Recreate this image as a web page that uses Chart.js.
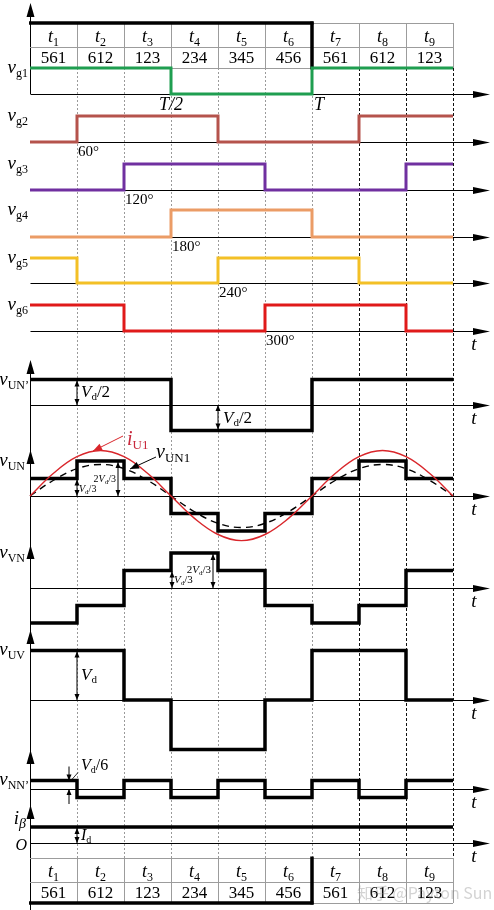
<!DOCTYPE html>
<html>
<head>
<meta charset="utf-8">
<script src="https://cdn.jsdelivr.net/npm/chart.js@4.4.1/dist/chart.umd.min.js"></script>
<style>
  html, body { margin: 0; padding: 0; background: #fff; }
  #wrap { position: relative; width: 494px; height: 910px; }
</style>
</head>
<body>
<div id="wrap"><canvas id="c"></canvas></div>
<script>
/* ── data (levels per interval t1..t9) ── */
const intervalLabels = ['1', '2', '3', '4', '5', '6', '7', '8', '9'];
const sectorLabels = ['561', '612', '123', '234', '345', '456', '561', '612', '123'];
const angleLabels = ['60°', '120°', '180°', '240°', '300°'];

const vg1 = [1, 1, 1, 0, 0, 0, 1, 1, 1];
const vg2 = [0, 1, 1, 1, 0, 0, 0, 1, 1];
const vg3 = [0, 0, 1, 1, 1, 0, 0, 0, 1];
const vg4 = [0, 0, 0, 1, 1, 1, 0, 0, 0];
const vg5 = [1, 0, 0, 0, 1, 1, 1, 0, 0];
const vg6 = [1, 1, 0, 0, 0, 1, 1, 1, 0];
const vUNp = [1, 1, 1, -1, -1, -1, 1, 1, 1];   // Vd/2
const vUN = [1, 2, 1, -1, -2, -1, 1, 2, 1];     // Vd/3
const vVN = [-2, -1, 1, 2, 1, -1, -2, -1, 1];   // Vd/3
const vUV = [1, 1, 0, -1, -1, 0, 1, 1, 0];      // Vd
const vNNp = [1, -1, 1, -1, 1, -1, 1, -1, 1];   // Vd/6
const iBeta = [1, 1, 1, 1, 1, 1, 1, 1, 1];      // Id

// fundamental and current, read at every half interval (units of Vd/3)
const waveT = [0, 0.5, 1, 1.5, 2, 2.5, 3, 3.5, 4, 4.5, 5, 5.5, 6, 6.5, 7, 7.5, 8, 8.5, 9];
const vUN1 = [0, 0.9, 1.56, 1.8, 1.56, 0.9, 0, -0.9, -1.56, -1.8, -1.56, -0.9, 0, 0.9, 1.56, 1.8, 1.56, 0.9, 0];
const iU1 = [0, 1.3, 2.25, 2.6, 2.25, 1.3, 0, -1.28, -2.2, -2.55, -2.2, -1.28, 0, 1.3, 2.25, 2.6, 2.25, 1.3, 0];

/* ── layout: one stacked y axis per row (baseline px, px per unit, band) ── */
const rows = [
  { id: 'yg1', base: 94, unit: 26, top: 0, bottom: 104 },
  { id: 'yg2', base: 142, unit: 26, top: 104, bottom: 152 },
  { id: 'yg3', base: 190, unit: 26, top: 152, bottom: 199 },
  { id: 'yg4', base: 237, unit: 27, top: 199, bottom: 247 },
  { id: 'yg5', base: 283, unit: 25, top: 247, bottom: 294 },
  { id: 'yg6', base: 331, unit: 26, top: 294, bottom: 350 },
  { id: 'yUNp', base: 405, unit: 25.5, top: 350, bottom: 440 },
  { id: 'yUN', base: 496, unit: 17.5, top: 440, bottom: 540 },
  { id: 'yVN', base: 588, unit: 17.5, top: 540, bottom: 640 },
  { id: 'yUV', base: 700, unit: 49.5, top: 640, bottom: 760 },
  { id: 'yNN', base: 789, unit: 8.5, top: 760, bottom: 805 },
  { id: 'yI', base: 843, unit: 16, top: 805, bottom: 910 }
];

const SERIF = '"Liberation Serif","DejaVu Serif",serif';
const fI = s => 'italic ' + s + 'px ' + SERIF;
const fN = s => s + 'px ' + SERIF;

function steps(vals) {
  const pts = vals.map((v, i) => ({ x: i, y: v }));
  pts.push({ x: vals.length, y: vals[vals.length - 1] });
  return pts;
}
function curve(xs, ys) { return xs.map((x, i) => ({ x: x, y: ys[i] })); }

function stepSet(vals, axis, color, width) {
  return {
    data: steps(vals), yAxisID: axis, borderColor: color, borderWidth: width,
    stepped: true, pointRadius: 0, fill: false, clip: false, borderJoinStyle: 'miter'
  };
}

const datasets = [
  stepSet(vg1, 'yg1', '#1f9e50', 3),
  stepSet(vg2, 'yg2', '#b5534c', 3),
  stepSet(vg3, 'yg3', '#7030a0', 3),
  stepSet(vg4, 'yg4', '#eb9c66', 3),
  stepSet(vg5, 'yg5', '#f3c026', 3),
  stepSet(vg6, 'yg6', '#e01a1a', 3),
  stepSet(vUNp, 'yUNp', '#000', 3.5),
  {
    data: curve(waveT, iU1), yAxisID: 'yUN', borderColor: '#d9262b', borderWidth: 1.4,
    tension: 0.4, pointRadius: 0, fill: false, clip: false
  },
  {
    data: curve(waveT, vUN1), yAxisID: 'yUN', borderColor: '#000', borderWidth: 1.4,
    borderDash: [7, 5], tension: 0.4, pointRadius: 0, fill: false, clip: false
  },
  stepSet(vUN, 'yUN', '#000', 3.5),
  stepSet(vVN, 'yVN', '#000', 3.5),
  stepSet(vUV, 'yUV', '#000', 3.5),
  stepSet(vNNp, 'yNN', '#000', 3.5),
  stepSet(iBeta, 'yI', '#000', 3.5)
];

const scales = { x: { type: 'linear', min: 0, max: 9, display: false } };
rows.forEach(r => {
  scales[r.id] = {
    type: 'linear', display: false, position: 'right', stack: 'rows',
    stackWeight: r.bottom - r.top,
    min: -(r.bottom - r.base) / r.unit,
    max: (r.base - r.top) / r.unit
  };
});

/* ── drawing helpers ── */
function rich(ctx, x, y, parts, align, color) {
  let w = 0;
  parts.forEach(p => { ctx.font = p[1]; w += ctx.measureText(p[0]).width; });
  let cx = align === 'right' ? x - w : (align === 'center' ? x - w / 2 : x);
  ctx.fillStyle = color || '#000';
  ctx.textAlign = 'left';
  ctx.textBaseline = 'alphabetic';
  parts.forEach(p => {
    ctx.font = p[1];
    ctx.fillText(p[0], cx, y + (p[2] || 0));
    cx += ctx.measureText(p[0]).width;
  });
}

function line(ctx, x1, y1, x2, y2, color, width) {
  ctx.beginPath();
  ctx.strokeStyle = color || '#000';
  ctx.lineWidth = width || 1;
  ctx.moveTo(x1, y1);
  ctx.lineTo(x2, y2);
  ctx.stroke();
}

function head(ctx, x, y, dir, len, half, color) {
  ctx.beginPath();
  ctx.fillStyle = color || '#000';
  ctx.moveTo(x, y);
  if (dir === 'up') { ctx.lineTo(x - half, y + len); ctx.lineTo(x + half, y + len); }
  else if (dir === 'down') { ctx.lineTo(x - half, y - len); ctx.lineTo(x + half, y - len); }
  else if (dir === 'right') { ctx.lineTo(x - len, y - half); ctx.lineTo(x - len, y + half); }
  ctx.closePath();
  ctx.fill();
}

function dim(ctx, x, y1, y2) {
  line(ctx, x, y1, x, y2, '#000', 1);
  head(ctx, x, y1, 'up', 6, 2.5);
  head(ctx, x, y2, 'down', 6, 2.5);
}

function pointer(ctx, x1, y1, x2, y2, color) {
  line(ctx, x1, y1, x2, y2, color, 1);
  const a = Math.atan2(y2 - y1, x2 - x1);
  ctx.save();
  ctx.translate(x2, y2);
  ctx.rotate(a);
  ctx.beginPath();
  ctx.fillStyle = color;
  ctx.moveTo(0, 0);
  ctx.lineTo(-9, -3.5);
  ctx.lineTo(-9, 3.5);
  ctx.closePath();
  ctx.fill();
  ctx.restore();
}

const TOP_TABLE = [23, 47, 68];
const BOTTOM_TABLE = [858, 882, 903];
const AXIS_END = 490;
const AXIS_TIPS = [360, 450, 545, 630, 750, 805];

function drawTable(ctx, px, ys, thickTop) {
  const x0 = px(0), x6 = px(6), x9 = px(9);
  ys.forEach(y => line(ctx, x0, y + 0.5, x9, y + 0.5, '#9c9c9c', 1));
  for (let i = 1; i <= 9; i++) {
    const x = Math.round(px(i)) + 0.5;
    line(ctx, x, ys[0], x, ys[2], '#9c9c9c', 1);
  }
  const yThick = thickTop ? ys[0] : ys[2];
  line(ctx, x0 - 1, yThick, x6 + 1.5, yThick, '#000', 3.5);
  line(ctx, x6, ys[0] - 1.5, x6, ys[2] + 1.5, '#000', 3.5);
}

function drawTableText(ctx, px, ys) {
  for (let i = 0; i < 9; i++) {
    const cx = (px(i) + px(i + 1)) / 2;
    rich(ctx, cx, ys[1] - 5, [['t', fI(18)], [intervalLabels[i], fN(12), 4]], 'center');
    rich(ctx, cx, ys[2] - 5, [[sectorLabels[i], fN(17)]], 'center');
  }
}

const diagram = {
  id: 'diagram',
  beforeDraw(chart) {
    const ctx = chart.ctx;
    ctx.save();
    ctx.fillStyle = '#fff';
    ctx.fillRect(0, 0, chart.width, chart.height);
    ctx.restore();
  },
  beforeDatasetsDraw(chart) {
    const ctx = chart.ctx;
    const X = chart.scales.x;
    const px = v => X.getPixelForValue(v);
    const py = (id, v) => chart.scales[id].getPixelForValue(v);
    const x0 = Math.round(px(0)) + 0.5;
    ctx.save();

    // vertical guide lines at each interval boundary
    for (let i = 1; i <= 9; i++) {
      ctx.setLineDash(i <= 6 ? [2, 2] : [3, 2]);
      const x = Math.round(px(i)) + 0.5;
      line(ctx, x, TOP_TABLE[2], x, BOTTOM_TABLE[0], i <= 6 ? '#9a9a9a' : '#111', 1);
    }
    ctx.setLineDash([]);

    // time axes with arrows
    rows.forEach(r => {
      const y = Math.round(py(r.id, 0)) + 0.5;
      line(ctx, x0, y, AXIS_END - 10, y, '#000', 1);
      head(ctx, AXIS_END, y, 'right', 17, 3.5);
    });

    // left vertical axes
    line(ctx, x0, 8, x0, py('yg1', 0), '#000', 1);
    head(ctx, x0, 3, 'up', 14, 4);
    line(ctx, x0, AXIS_TIPS[0] + 6, x0, 910, '#000', 1);
    AXIS_TIPS.forEach(y => head(ctx, x0, y, 'up', 14, 4));

    drawTable(ctx, px, TOP_TABLE, true);
    drawTable(ctx, px, BOTTOM_TABLE, false);
    ctx.restore();
  },
  afterDatasetsDraw(chart) {
    const ctx = chart.ctx;
    const X = chart.scales.x;
    const px = v => X.getPixelForValue(v);
    const py = (id, v) => chart.scales[id].getPixelForValue(v);
    ctx.save();

    drawTableText(ctx, px, TOP_TABLE);
    drawTableText(ctx, px, BOTTOM_TABLE);

    // row labels
    const sig = (y, main, sub, right, subFont) =>
      rich(ctx, right, y, [[main, fI(19)], [sub, subFont || fN(12), 4]], 'right');
    ['yg1', 'yg2', 'yg3', 'yg4', 'yg5', 'yg6'].forEach((id, k) => {
      sig(py(id, 1) + 5, 'v', 'g' + (k + 1), 28);
    });
    sig(py('yUNp', 1) + 5, 'v', 'UN\u2019', 29);
    sig(py('yUN', 0) - 30, 'v', 'UN', 25);
    sig(py('yVN', 0) - 30, 'v', 'VN', 25);
    sig(py('yUV', 1) + 4, 'v', 'UV', 25);
    sig(py('yNN', 1) + 4, 'v', 'NN\u2019', 29);
    sig(py('yI', 1) - 3, 'i', '\u03b2', 26, fI(14));
    rich(ctx, 27, py('yI', 0) + 7, [['O', fI(16)]], 'right');

    // phase angles and period marks
    angleLabels.forEach((txt, k) => {
      const id = rows[k + 1].id;
      rich(ctx, px(k + 1) + 1, py(id, 0) + 14, [[txt, fN(15)]], 'left');
    });
    rich(ctx, px(3), py('yg1', 0) + 16, [['T/2', fI(18)]], 'center');
    rich(ctx, px(6) + 2, py('yg1', 0) + 16, [['T', fI(18)]], 'left');

    // "t" at the end of time axes
    ['yg6', 'yUNp', 'yUN', 'yVN', 'yUV', 'yNN', 'yI'].forEach(id => {
      rich(ctx, 474, py(id, 0) + 19, [['t', fI(19)]], 'center');
    });

    // dimension arrows
    const Vd = (tail, size, sub) => [['V', fI(size)], ['d', fN(sub), sub * 0.3], [tail, fN(size)]];
    dim(ctx, px(1), py('yUNp', 1) + 1, py('yUNp', 0));
    rich(ctx, px(1) + 4, py('yUNp', 0) - 8, Vd('/2', 17, 11), 'left');
    dim(ctx, px(4), py('yUNp', 0), py('yUNp', -1) - 1);
    rich(ctx, px(4) + 5, py('yUNp', 0) + 18, Vd('/2', 17, 11), 'left');

    dim(ctx, px(1), py('yUN', 1) + 1, py('yUN', 0));
    rich(ctx, px(1) + 2, py('yUN', 0) - 4, Vd('/3', 10, 7), 'left');
    dim(ctx, px(2) - 6, py('yUN', 2) + 1, py('yUN', 0));
    rich(ctx, px(2) - 8, py('yUN', 0) - 14, [['2', fN(10)], ['V', fI(10)], ['d', fN(7), 2], ['/3', fN(10)]], 'right');

    dim(ctx, px(3) + 1, py('yVN', 1) + 1, py('yVN', 0));
    rich(ctx, px(3) + 3, py('yVN', 0) - 5, Vd('/3', 11, 7), 'left');
    dim(ctx, px(4) - 5, py('yVN', 2) + 1, py('yVN', 0));
    rich(ctx, px(4) - 7, py('yVN', 0) - 15, [['2', fN(11)], ['V', fI(11)], ['d', fN(7), 2], ['/3', fN(11)]], 'right');

    dim(ctx, px(1), py('yUV', 1) + 1, py('yUV', 0));
    rich(ctx, px(1) + 4, py('yUV', 0) - 20, Vd('', 17, 11), 'left');

    // vNN' : arrows pointing inward
    const xn = px(1) - 8;
    line(ctx, xn, py('yNN', 1) - 14, xn, py('yNN', 1), '#000', 1);
    head(ctx, xn, py('yNN', 1), 'down', 6, 2.5);
    line(ctx, xn, py('yNN', 0) + 15, xn, py('yNN', 0), '#000', 1);
    head(ctx, xn, py('yNN', 0), 'up', 6, 2.5);
    line(ctx, xn + 2, py('yNN', 1), xn + 9, py('yNN', 1) - 8, '#000', 0.8);
    rich(ctx, px(1) + 4, py('yNN', 1) - 11, Vd('/6', 16, 10), 'left');

    dim(ctx, px(1), py('yI', 1) + 1, py('yI', 0));
    rich(ctx, px(1) + 4, py('yI', 0) - 3, [['I', fI(16)], ['d', fN(10), 3]], 'left');

    // curve call-outs
    rich(ctx, 127, 445, [['i', fI(20)], ['U1', fN(13), 4]], 'left', '#c8283c');
    pointer(ctx, 123, 436, 93, 451, '#d9262b');
    rich(ctx, 156, 458, [['v', fI(20)], ['UN1', fN(13), 4]], 'left');
    pointer(ctx, 156, 457, 130, 469, '#000');

    // watermark
    ctx.font = '16px "Noto Sans CJK SC", "Noto Sans", sans-serif';
    ctx.fillStyle = 'rgba(130,130,130,0.35)';
    ctx.textAlign = 'left';
    ctx.fillText('知乎 @Payton Sun', 357, 899);
    ctx.restore();
  }
};

new Chart(document.getElementById('c').getContext('2d'), {
  type: 'line',
  data: { datasets: datasets },
  options: {
    responsive: true,
    maintainAspectRatio: false,
    animation: false,
    events: [],
    layout: { padding: { left: 30, right: 41, top: 0, bottom: 0 } },
    plugins: { legend: { display: false }, tooltip: { enabled: false } },
    scales: scales
  },
  plugins: [diagram]
});
</script>
</body>
</html>
